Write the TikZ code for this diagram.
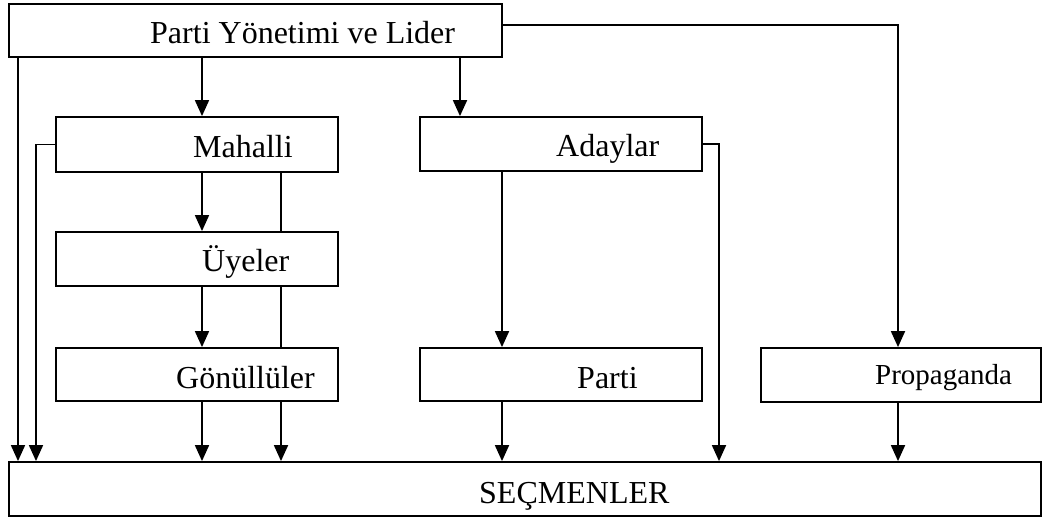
\documentclass[tikz,border=0pt]{standalone}
\usepackage{fontspec}
\setmainfont{Liberation Serif}
\usetikzlibrary{arrows.meta}
\begin{document}
\begin{tikzpicture}[x=1pt,y=-1pt,
  box/.style={draw, line width=1.8pt, inner sep=0pt, rectangle},
  lbl/.style={anchor=base west, inner sep=0pt, font=\fontsize{32}{38}\selectfont},
  link/.style={line width=1.8pt},
  arr/.style={link, -{Triangle[length=16pt,width=14pt]}}]
\useasboundingbox (0,0) rectangle (1043,518);

% boxes
\node[box, minimum width=493pt, minimum height=53pt] (lider) at (255.5,30.5) {};
\node[box, minimum width=282pt, minimum height=55pt] (mahalli) at (197,144.5) {};
\node[box, minimum width=282pt, minimum height=54pt] (adaylar) at (561,144) {};
\node[box, minimum width=282pt, minimum height=54pt] (uyeler) at (197,259) {};
\node[box, minimum width=282pt, minimum height=53pt] (gonullu) at (197,374.5) {};
\node[box, minimum width=282pt, minimum height=53pt] (parti) at (561,374.5) {};
\node[box, minimum width=280pt, minimum height=54pt] (propaganda) at (901,375) {};
\node[box, minimum width=1032pt, minimum height=54pt] (secmen) at (525,489) {};

% labels
\node[lbl] (t-lider) at (150,44) {Parti Yönetimi ve Lider};
\node[lbl] (t-mahalli) at (193,158) {Mahalli};
\node[lbl] (t-uyeler) at (202,272) {Üyeler};
\node[lbl] (t-gonullu) at (176,388) {Gönüllüler};
\node[lbl] (t-adaylar) at (556,157) {Adaylar};
\node[lbl] (t-parti) at (577,388) {Parti};
\node[lbl, font=\fontsize{29}{35}\selectfont] (t-propaganda) at (875,384) {Propaganda};
\node[lbl] (t-secmen) at (479,503) {SEÇMENLER};

% connector columns
\coordinate (c1) at (18,0);
\coordinate (c2) at (36,0);
\coordinate (c3) at (202,0);
\coordinate (c4) at (281,0);
\coordinate (c5) at (460,0);
\coordinate (c6) at (502,0);
\coordinate (c7) at (719,0);
\coordinate (c8) at (898,0);
\coordinate (r1) at (0,25);

% connectors
\draw[arr] (lider.south -| c1) -- (secmen.north -| c1);
\draw[arr] (mahalli.west) -- (mahalli.west -| c2) -- (secmen.north -| c2);
\draw[arr] (lider.south -| c3) -- (mahalli.north -| c3);
\draw[arr] (lider.south -| c5) -- (adaylar.north -| c5);
\draw[arr] (lider.east |- r1) -- (c8 |- r1) -- (propaganda.north -| c8);
\draw[arr] (mahalli.south -| c3) -- (uyeler.north -| c3);
\draw[arr] (uyeler.south -| c3) -- (gonullu.north -| c3);
\draw[arr] (gonullu.south -| c3) -- (secmen.north -| c3);
\draw[link] (mahalli.south -| c4) -- (uyeler.north -| c4);
\draw[link] (uyeler.south -| c4) -- (gonullu.north -| c4);
\draw[arr] (gonullu.south -| c4) -- (secmen.north -| c4);
\draw[arr] (adaylar.south -| c6) -- (parti.north -| c6);
\draw[arr] (parti.south -| c6) -- (secmen.north -| c6);
\draw[arr] (adaylar.east) -- (adaylar.east -| c7) -- (secmen.north -| c7);
\draw[arr] (propaganda.south -| c8) -- (secmen.north -| c8);
\end{tikzpicture}
\end{document}
